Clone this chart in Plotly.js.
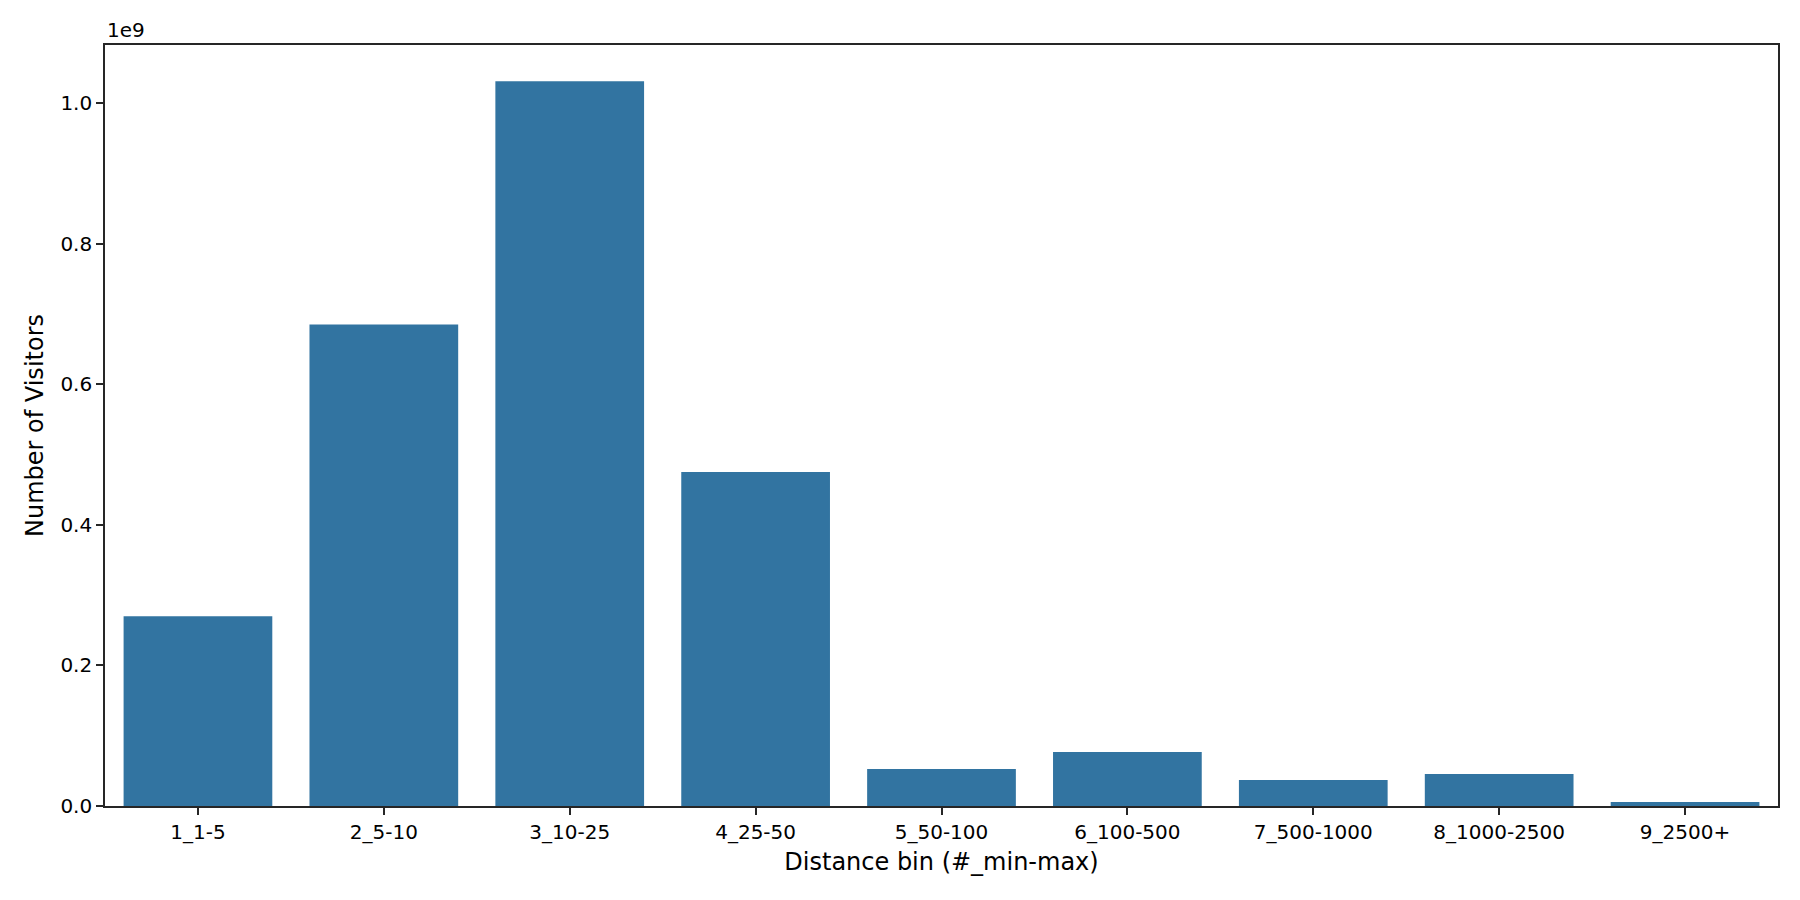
<!DOCTYPE html>
<html>
<head>
<meta charset="utf-8">
<script src="https://cdn.plot.ly/plotly-3.0.1.min.js"></script>
<style>
  html, body { margin: 0; padding: 0; background: #fff; }
  #chart { width: 1800px; height: 900px; }
</style>
</head>
<body>
<div id="chart"></div>
<script>
const bins = ['1_1-5', '2_5-10', '3_10-25', '4_25-50', '5_50-100',
  '6_100-500', '7_500-1000', '8_1000-2500', '9_2500+']
const visitors = [270e6, 685e6, 1031e6, 475e6, 52.5e6, 76.8e6, 37e6, 45.5e6, 5.7e6]
const yTickVals = [0, 0.2e9, 0.4e9, 0.6e9, 0.8e9, 1.0e9]
const yTickText = ['0.0', '0.2', '0.4', '0.6', '0.8', '1.0']

const font = 'DejaVu Sans, sans-serif'
const ink = '#262626'

let trace = {
  x: bins,
  y: visitors,
  type: 'bar',
  width: 0.8,
  marker: { color: '#3274a1', line: { width: 0 } },
  hoverinfo: 'x+y',
}

let layout = {
  width: 1800,
  height: 900,
  margin: { l: 105, r: 22, t: 45, b: 94 },
  paper_bgcolor: '#fff',
  plot_bgcolor: '#fff',
  showlegend: false,
  font: { family: font, color: ink, size: 20 },
  xaxis: {
    type: 'category',
    range: [-0.5, 8.5],
    showgrid: false,
    zeroline: false,
    showline: true,
    mirror: true,
    linecolor: ink,
    linewidth: 1.6,
    ticks: 'outside',
    ticklen: 7,
    tickwidth: 1.6,
    tickcolor: ink,
    tickfont: { size: 20, family: font, color: '#000' },
    automargin: false,
    title: { text: 'Distance bin (#_min-max)', font: { size: 24, family: font, color: '#000' }, standoff: 10 },
  },
  yaxis: {
    range: [0, 1.0825e9],
    showgrid: false,
    zeroline: false,
    showline: true,
    mirror: true,
    linecolor: ink,
    linewidth: 1.6,
    ticks: 'outside',
    ticklen: 7,
    tickwidth: 1.6,
    tickcolor: ink,
    tickvals: yTickVals,
    ticktext: yTickText,
    tickfont: { size: 20, family: font, color: '#000' },
    automargin: false,
    title: { text: 'Number of Visitors', font: { size: 24, family: font, color: '#000' }, standoff: 10 },
  },
  annotations: [
    {
      text: '1e9',
      xref: 'paper', yref: 'paper',
      x: 0, y: 1,
      xanchor: 'left', yanchor: 'bottom',
      yshift: 1,
      showarrow: false,
      font: { size: 20, family: font, color: '#000' },
    }
  ],
}

Plotly.newPlot('chart', [trace], layout, { displayModeBar: false, responsive: false })
</script>
</body>
</html>
